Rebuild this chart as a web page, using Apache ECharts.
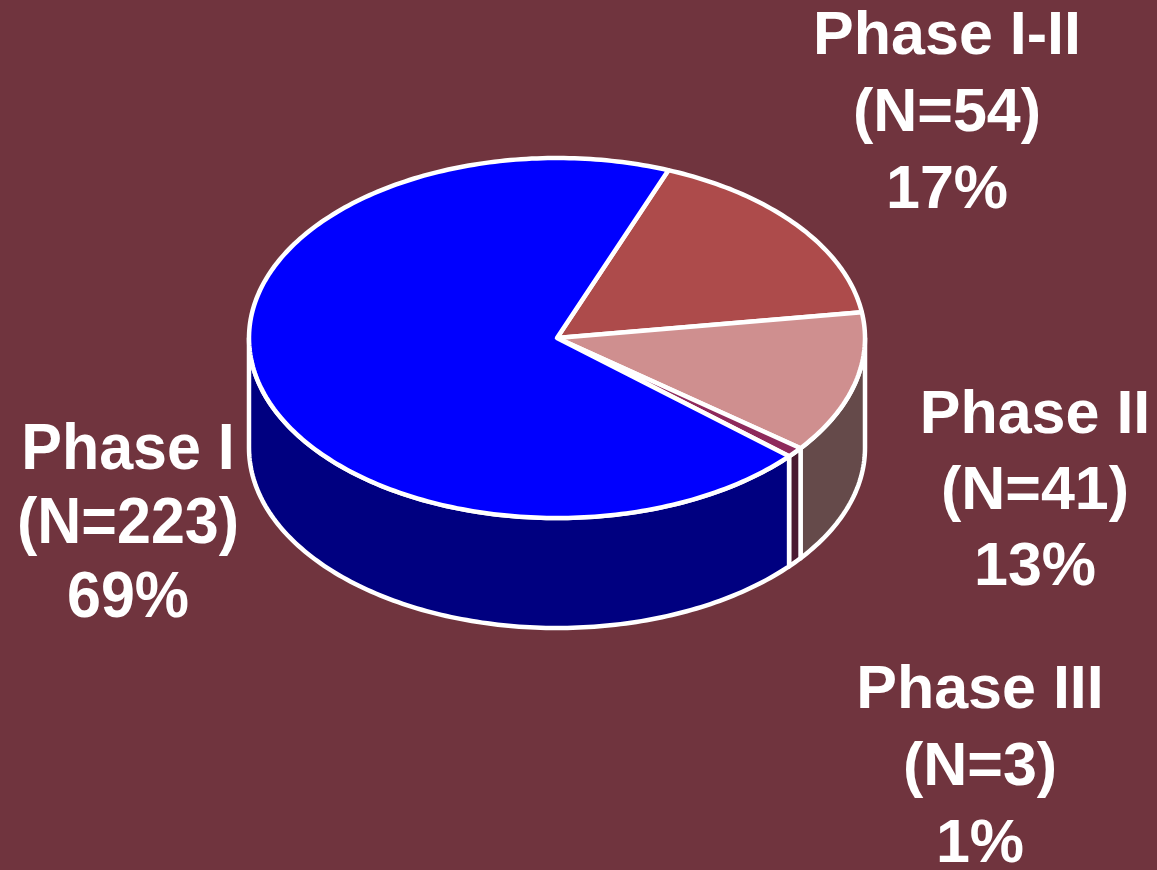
<!DOCTYPE html>
<html><head><meta charset="utf-8">
<script src="https://cdn.jsdelivr.net/npm/echarts@6/dist/echarts.min.js"></script>
<style>html,body{margin:0;padding:0;background:#70343E}#c{width:1157px;height:870px}</style>
</head><body><div id="c"></div>
<script>
// data (clockwise from the top-right boundary)
const categories = ['Phase I-II', 'Phase II', 'Phase III', 'Phase I'];
const counts = [54, 41, 3, 223];
const percents = [17, 13, 1, 69];

// styles
const topColors = ['#AD4B4B', '#CF8F8F', '#8E2A5C', '#0000FF'];
const sideColors = ['#7A3535', '#654A4A', '#4A1A30', '#000080'];

// layout
const CX = 557, CY = 338, RX = 308, RY = 180, DEPTH = 110, START = 68.8;
const labelLayout = [
  { x: 947, base: 58, lh: 77, sy: 1.0 },
  { x: 1035, base: 437, lh: 76, sy: 1.0 },
  { x: 980, base: 712, lh: 77, sy: 1.0 },
  { x: 128, base: 473, lh: 74, sy: 1.06 }
];

const total = counts.reduce((a, b) => a + b, 0);
const ranges = [];
let acc = START;
counts.forEach(v => { const span = v / total * 360; ranges.push([acc - span, acc]); acc -= span; });

function pt(t, dy) { const r = t * Math.PI / 180; return [CX + RX * Math.cos(r), CY - RY * Math.sin(r) + dy]; }
function arc(a, b, dy) {
  const n = Math.max(2, Math.ceil(Math.abs(b - a) / 1.0));
  const out = [];
  for (let i = 0; i <= n; i++) out.push(pt(a + (b - a) * i / n, dy));
  return out;
}
const strokeStyle = { stroke: '#FFFFFF', lineWidth: 4.5, lineJoin: 'round' };

function renderWall(params, api) {
  const i = params.dataIndex;
  const lo = ranges[i][0], hi = ranges[i][1];
  const children = [];
  for (let k = -2; k <= 1; k++) {
    const l = Math.max(lo, -180 + 360 * k), h = Math.min(hi, 360 * k);
    if (h > l) {
      const pts = arc(l, h, 0).concat(arc(h, l, DEPTH));
      children.push({ type: 'polygon', shape: { points: pts },
        style: Object.assign({ fill: sideColors[i] }, strokeStyle) });
    }
  }
  return { type: 'group', children: children };
}
function renderTop(params, api) {
  const i = params.dataIndex;
  const lo = ranges[i][0], hi = ranges[i][1];
  const pts = [[CX, CY]].concat(arc(hi, lo, 0));
  return { type: 'polygon', shape: { points: pts },
    style: Object.assign({ fill: topColors[i] }, strokeStyle) };
}

const graphics = [];
categories.forEach((name, i) => {
  const L = labelLayout[i];
  const lines = [name, '(N=' + counts[i] + ')', percents[i] + '%'];
  lines.forEach((t, j) => {
    const yb = L.base + j * L.lh;
    graphics.push({ type: 'text', silent: true, x: L.x, y: yb, scaleY: L.sy, style: {
      text: t, x: 0, y: -21, fill: '#FFFFFF',
      font: 'bold 61px "Liberation Sans", Arial, sans-serif',
      textAlign: 'center', textVerticalAlign: 'middle', verticalAlign: 'middle'
    }});
  });
});

const chart = echarts.init(document.getElementById('c'));
chart.setOption({
  backgroundColor: '#70343E',
  animation: false,
  series: [
    { type: 'custom', coordinateSystem: 'none', silent: true, z: 1,
      data: counts, renderItem: renderWall },
    { type: 'custom', coordinateSystem: 'none', silent: true, z: 2,
      data: counts, renderItem: renderTop }
  ],
  graphic: graphics
});
</script></body></html>
